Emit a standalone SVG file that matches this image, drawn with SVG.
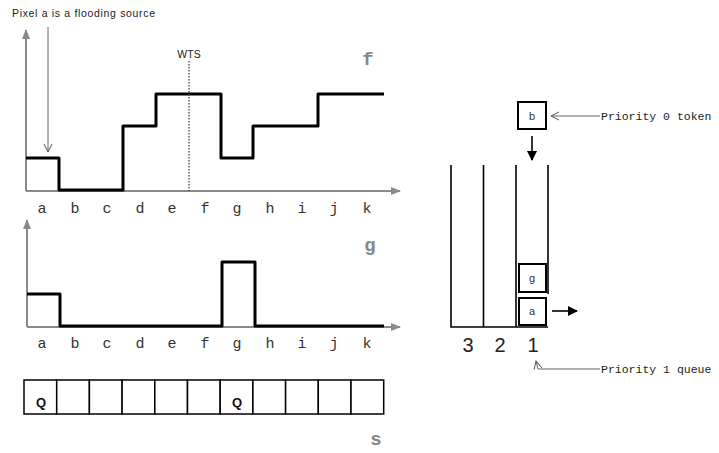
<svg xmlns="http://www.w3.org/2000/svg" width="719" height="453" viewBox="0 0 719 453">
<style>
.axis{stroke:#8a8a8a;stroke-width:2;fill:none}
.step{stroke:#000;stroke-width:3;fill:none;stroke-linejoin:round}
.thin{stroke:#000;stroke-width:1.6;fill:none}
.grayline{stroke:#666;stroke-width:1;fill:none}
.lbl{font-family:"Liberation Mono",monospace;font-size:15px;fill:#333;text-anchor:middle}
.fn{font-family:"Liberation Mono",monospace;font-size:19px;font-weight:bold;fill:#888;text-anchor:middle}
.sans{font-family:"Liberation Sans",Arial,sans-serif;fill:#222}
.mono{font-family:"Liberation Mono",monospace;font-size:11.5px;fill:#222}
.box{fill:#fff;stroke:#000;stroke-width:2}
.cell{fill:#fff;stroke:#000;stroke-width:1.5}
.tok{font-family:"Liberation Sans",Arial,sans-serif;font-size:11px;fill:#333;text-anchor:middle}
.q{font-family:"Liberation Sans",Arial,sans-serif;font-size:13px;font-weight:bold;fill:#111;text-anchor:middle}
</style>
<defs>
<marker id="ah" markerWidth="10" markerHeight="8" refX="9" refY="4" orient="auto" markerUnits="userSpaceOnUse">
<path d="M0,0 L10,4 L0,8 Z" fill="#8a8a8a"/>
</marker>
<marker id="bk" markerWidth="10" markerHeight="10" refX="9" refY="5" orient="auto" markerUnits="userSpaceOnUse">
<path d="M0,0 L10,5 L0,10 Z" fill="#000"/>
</marker>
<marker id="open" markerWidth="10" markerHeight="10" refX="9" refY="5" orient="auto" markerUnits="userSpaceOnUse">
<path d="M1,1 L9,5 L1,9" fill="none" stroke="#555" stroke-width="1"/>
</marker>
</defs>

<g id="graph-f">
<line class="axis" x1="26" y1="191" x2="26" y2="30" marker-end="url(#ah)"/>
<line class="axis" x1="26" y1="191" x2="400" y2="191" marker-end="url(#ah)"/>
<polyline class="step" points="26,158 59,158 59,190 123,190 123,126 156,126 156,94 221,94 221,158 253,158 253,126 318,126 318,94 384,94"/>
<line x1="189" y1="61" x2="189" y2="191" stroke="#333" stroke-width="1.2" stroke-dasharray="1.5,1.5"/>
<text class="sans" x="189" y="58" font-size="10.5" text-anchor="middle">WTS</text>
<text class="fn" x="368" y="65">f</text>
<g>
<text class="lbl" x="42" y="213">a</text>
<text class="lbl" x="75" y="213">b</text>
<text class="lbl" x="107" y="213">c</text>
<text class="lbl" x="140" y="213">d</text>
<text class="lbl" x="172" y="213">e</text>
<text class="lbl" x="205" y="213">f</text>
<text class="lbl" x="237" y="213">g</text>
<text class="lbl" x="270" y="213">h</text>
<text class="lbl" x="302" y="213">i</text>
<text class="lbl" x="334" y="213">j</text>
<text class="lbl" x="367" y="213">k</text>
</g>
</g>

<g id="source-note">
<text class="sans" x="12" y="17" font-size="10.5" textLength="143" lengthAdjust="spacing">Pixel a is a flooding source</text>
<line class="grayline" x1="48" y1="27" x2="48" y2="152" marker-end="url(#open)"/>
</g>

<g id="graph-g">
<line class="axis" x1="27" y1="327" x2="27" y2="220" marker-end="url(#ah)"/>
<line class="axis" x1="27" y1="327" x2="400" y2="327" marker-end="url(#ah)"/>
<polyline class="step" points="27,294 60,294 60,326 222,326 222,262 255,262 255,326 384,326"/>
<text class="fn" x="370" y="251">g</text>
<g>
<text class="lbl" x="42" y="348">a</text>
<text class="lbl" x="75" y="348">b</text>
<text class="lbl" x="107" y="348">c</text>
<text class="lbl" x="140" y="348">d</text>
<text class="lbl" x="172" y="348">e</text>
<text class="lbl" x="205" y="348">f</text>
<text class="lbl" x="237" y="348">g</text>
<text class="lbl" x="270" y="348">h</text>
<text class="lbl" x="302" y="348">i</text>
<text class="lbl" x="334" y="348">j</text>
<text class="lbl" x="367" y="348">k</text>
</g>
</g>

<g id="array-s">
<rect class="cell" x="24" y="380" width="32.7" height="34"/>
<rect class="cell" x="56.7" y="380" width="32.7" height="34"/>
<rect class="cell" x="89.4" y="380" width="32.7" height="34"/>
<rect class="cell" x="122.1" y="380" width="32.7" height="34"/>
<rect class="cell" x="154.8" y="380" width="32.7" height="34"/>
<rect class="cell" x="187.5" y="380" width="32.7" height="34"/>
<rect class="cell" x="220.2" y="380" width="32.7" height="34"/>
<rect class="cell" x="252.9" y="380" width="32.7" height="34"/>
<rect class="cell" x="285.6" y="380" width="32.7" height="34"/>
<rect class="cell" x="318.3" y="380" width="32.7" height="34"/>
<rect class="cell" x="351" y="380" width="32.7" height="34"/>
<text class="q" x="41" y="407">Q</text>
<text class="q" x="237" y="407">Q</text>
<text class="fn" x="376" y="445">s</text>
</g>

<g id="token-b">
<rect class="box" x="518" y="102" width="28" height="27"/>
<text class="tok" x="532" y="120">b</text>
</g>
<g id="token-note">
<line class="grayline" x1="600" y1="116" x2="551" y2="116" marker-end="url(#open)"/>
<text class="mono" x="601" y="119.5">Priority 0 token</text>
</g>

<g id="queues">
<polyline class="thin" points="451,165 451,327 548,327"/>
<line class="thin" x1="483.5" y1="165" x2="483.5" y2="327"/>
<line class="thin" x1="516" y1="165" x2="516" y2="327"/>
<line class="thin" x1="548" y1="165" x2="548" y2="294"/>
<text class="sans" x="468" y="352" font-size="20" text-anchor="middle" fill="#111">3</text>
<text class="sans" x="500" y="352" font-size="20" text-anchor="middle" fill="#111">2</text>
<text class="sans" x="533" y="352" font-size="20" text-anchor="middle" fill="#111">1</text>
</g>

<g id="token-g">
<rect class="box" x="519" y="264" width="27" height="28"/>
<text class="tok" x="532" y="282">g</text>
</g>
<g id="token-a">
<rect class="box" x="519" y="298" width="27" height="27"/>
<text class="tok" x="532" y="315">a</text>
</g>

<g id="queue-note">
<polyline class="grayline" points="600,369 538,369 536,361" marker-end="url(#open)"/>
<text class="mono" x="601" y="372.5">Priority 1 queue</text>
</g>

<g id="connectors">
<line x1="532" y1="136" x2="532" y2="160" stroke="#000" stroke-width="1.6" marker-end="url(#bk)"/>
<line x1="552" y1="311" x2="577" y2="311" stroke="#000" stroke-width="1.6" marker-end="url(#bk)"/>
</g>
</svg>
